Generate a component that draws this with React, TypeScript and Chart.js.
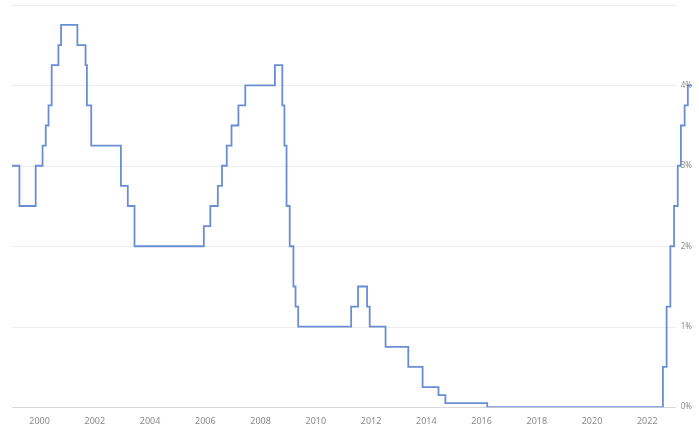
import React, { useEffect, useRef } from "react";
import { Chart, registerables } from "chart.js";

Chart.register(...registerables);

// Effective dates of rate changes and the rate (%) from that date
const changeDates: string[] = [
  "1999-01-01", "1999-04-09", "1999-11-10", "2000-02-09", "2000-03-22", "2000-04-28",
  "2000-06-09", "2000-09-06", "2000-10-11", "2001-05-15", "2001-08-31", "2001-09-18",
  "2001-11-14", "2002-12-11", "2003-03-12", "2003-06-09", "2005-12-12", "2006-03-08",
  "2006-06-15", "2006-08-09", "2006-10-11", "2006-12-13", "2007-03-14", "2007-06-13",
  "2008-07-09", "2008-10-15", "2008-11-12", "2008-12-10", "2009-01-21", "2009-03-11",
  "2009-04-08", "2009-05-13", "2011-04-13", "2011-07-13", "2011-11-09", "2011-12-14",
  "2012-07-11", "2013-05-08", "2013-11-13", "2014-06-11", "2014-09-10", "2016-03-16",
  "2022-07-27", "2022-09-14", "2022-11-02", "2022-12-21", "2023-02-08", "2023-03-22",
  "2023-05-10", "2023-06-21", "2023-08-12",
];
const rates: number[] = [
  3.0, 2.5, 3.0, 3.25, 3.5, 3.75,
  4.25, 4.5, 4.75, 4.5, 4.25, 3.75,
  3.25, 2.75, 2.5, 2.0, 2.25, 2.5,
  2.75, 3.0, 3.25, 3.5, 3.75, 4.0,
  4.25, 3.75, 3.25, 2.5, 2.0, 1.5,
  1.25, 1.0, 1.25, 1.5, 1.25, 1.0,
  0.75, 0.5, 0.25, 0.15, 0.05, 0.0,
  0.5, 1.25, 2.0, 2.5, 3.0, 3.5,
  3.75, 4.0, 4.0,
];
const xTickYears: number[] = [2000, 2002, 2004, 2006, 2008, 2010, 2012, 2014, 2016, 2018, 2020, 2022];
const yTickValues: number[] = [0, 1, 2, 3, 4, 5];
const yTickLabels: string[] = ["0%", "1%", "2%", "3%", "4%", ""];

function toYear(d: string): number {
  const [y, m, day] = d.split("-").map(Number);
  const start = Date.UTC(y, 0, 1);
  const end = Date.UTC(y + 1, 0, 1);
  return y + (Date.UTC(y, m - 1, day) - start) / (end - start);
}

const gridPlugin = {
  id: "shortGrid",
  beforeDatasetsDraw(chart: any) {
    const { ctx, chartArea, scales } = chart;
    ctx.save();
    ctx.lineWidth = 1;
    yTickValues.forEach((v) => {
      const y = Math.round(scales.y.getPixelForValue(v)) + 0.5;
      ctx.strokeStyle = v === 0 ? "#d8d8d8" : "#ececec";
      ctx.beginPath();
      ctx.moveTo(chartArea.left, y);
      ctx.lineTo(chartArea.right - 16, y);
      ctx.stroke();
    });
    ctx.restore();
  },
};

export default function App() {
  const ref = useRef<HTMLCanvasElement | null>(null);
  useEffect(() => {
    if (!ref.current) return;
    const points = changeDates.map((d, i) => ({ x: toYear(d), y: rates[i] }));
    const chart = new Chart(ref.current, {
      type: "line",
      data: {
        datasets: [
          {
            data: points,
            borderColor: "#6a8ed3",
            borderWidth: 1.8,
            stepped: true,
            pointRadius: 0,
            fill: false,
          },
        ],
      },
      options: {
        animation: false,
        responsive: false,
        maintainAspectRatio: false,
        layout: { padding: { left: 12, right: 7, top: 3, bottom: -9 } },
        plugins: { legend: { display: false }, tooltip: { enabled: false } },
        scales: {
          x: {
            type: "linear",
            min: 1999.0,
            max: 2023.62,
            afterBuildTicks: (s: any) => {
              s.ticks = xTickYears.map((v) => ({ value: v }));
            },
            grid: { display: false, drawTicks: false },
            border: { display: false },
            ticks: {
              padding: 9,
              color: "#8a8a8a",
              font: { family: "Noto Sans", size: 9 },
              callback: (v: any) => String(v),
              maxRotation: 0,
              autoSkip: false,
            },
          },
          y: {
            position: "right",
            min: 0,
            max: 5,
            afterBuildTicks: (s: any) => {
              s.ticks = yTickValues.map((v) => ({ value: v }));
            },
            grid: { display: false, drawTicks: false },
            border: { display: false },
            ticks: {
              mirror: true,
              padding: 0,
              color: "#8a8a8a",
              font: { family: "Noto Sans", size: 8 },
              callback: (v: any) => yTickLabels[yTickValues.indexOf(Number(v))] ?? "",
            },
          },
        },
      },
      plugins: [gridPlugin],
    });
    return () => chart.destroy();
  }, []);
  return (
    <div style={{ position: "fixed", left: 0, top: 0, width: 699, height: 427, background: "#fff" }}>
      <canvas ref={ref} width={699} height={427} style={{ width: 699, height: 427, display: "block" }} />
    </div>
  );
}
